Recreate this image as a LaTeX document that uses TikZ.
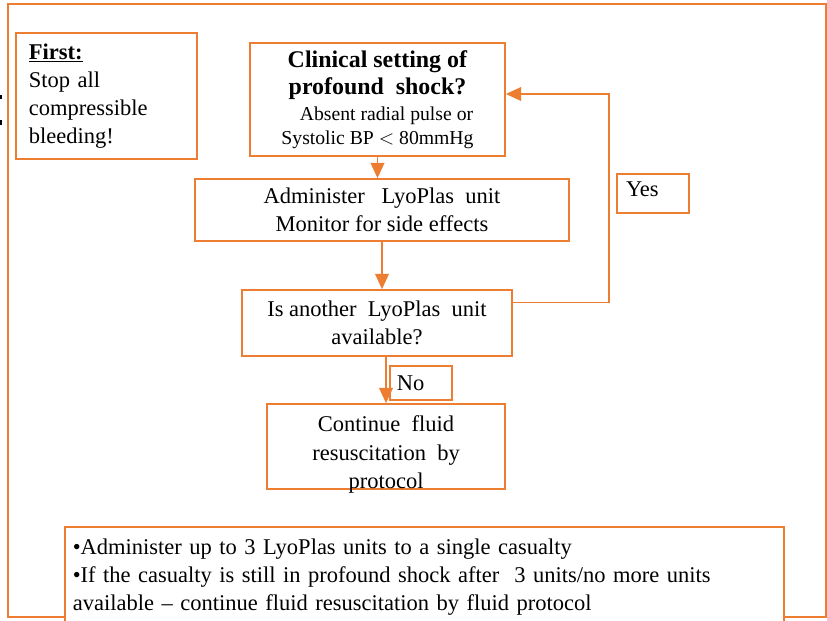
\documentclass[tikz,border=0pt]{standalone}
\usepackage{fontspec}
\setmainfont{Liberation Serif}
\usepackage{xcolor}
\usetikzlibrary{arrows.meta,positioning,calc}
\definecolor{pptorange}{HTML}{ED7D31}

\begin{document}
\begin{tikzpicture}[x=0.025cm,y=-0.025cm,
   >={Triangle[length=0.38cm,width=0.34cm]},
   font=\fontsize{16}{20}\selectfont,
   box/.style={draw=pptorange,line width=1.2pt,fill=white,align=center,inner sep=2pt},
   lbl/.style={draw=pptorange,line width=1.2pt,fill=white,align=left,inner ysep=2pt},
   arr/.style={->,draw=pptorange,line width=1.2pt}]
  \useasboundingbox (0,0) rectangle (827,620);
  \clip (0,0) rectangle (827,620);
  \draw[pptorange,line width=1.2pt] (8,4) rectangle (826,617);
  \fill (0,95) rectangle (2,99); \fill (0,120) rectangle (2,125);
  \node[lbl,text width=3.875cm,inner xsep=0.325cm,minimum height=3.15cm] (first) at (106.5,96)
    {\underline{\textbf{First:}}\\Stop all\\compressible\\bleeding!};
  \node[box,minimum width=6.375cm,minimum height=2.825cm] (shock) at (377.5,99.5)
    {\fontsize{17}{20}\selectfont\textbf{Clinical setting of}\\[-0.5pt]
     \fontsize{17}{20}\selectfont\textbf{profound\ \ shock?}\\[-1.5pt]
     \fontsize{14}{17}\selectfont\hspace{0.45cm}Absent radial pulse or\\[-3pt]
     \fontsize{14}{17}\selectfont Systolic BP $<$ 80mmHg};
  \node[box,minimum width=9.35cm,minimum height=1.55cm] (admin) at (382,210)
    {Administer\ \ \ LyoPlas\ \ unit\\Monitor for side effects};
  \node[box,minimum width=6.75cm,minimum height=1.65cm] (another) at (377,323)
    {Is another\ \ LyoPlas\ \ unit\\available?};
  \node[box,minimum width=5.95cm,minimum height=2.125cm] (cont) at (386,446.5) {};
  \node[align=center] (conttext) at ([yshift=-0.2cm]cont.center)
    {Continue\ \ fluid\\resuscitation\ \ by\\protocol};
  \node[lbl,text width=1.35cm,inner xsep=0.225cm,text depth=0.2cm,minimum height=0.975cm] (yes) at (653,193.5) {Yes};
  \node[lbl,text width=1.2cm,inner xsep=0.175cm,minimum height=0.85cm] (no) at (421,383) {No};
  \coordinate (turn) at (609,94);
  \draw[arr] (shock.south) -- (shock.south |- admin.north);
  \draw[arr] (admin.south) -- (admin.south |- another.north);
  \draw[arr] (cont.north |- another.south) -- (cont.north);
  \draw[arr] ([yshift=-0.33cm]another.north east) -| (turn) -- (turn -| shock.east);
  \node[lbl,anchor=north west,text width=17.575cm,inner xsep=0.2cm,inner ysep=0.3cm] (notes) at (64,526)
    {\textbullet Administer up to 3 LyoPlas units to a single casualty\\
     \textbullet If the casualty is still in profound shock after\ \ 3 units/no more units\\
     available -- continue fluid resuscitation by fluid protocol};
\end{tikzpicture}
\end{document}
